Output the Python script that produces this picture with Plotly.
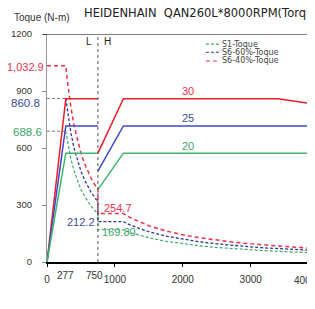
import plotly.graph_objects as go

# ---------------- data ----------------
# Power (kW) - L winding
speed_L_power = [0, 277, 750]
power_L_s6_40 = [0, 30, 30]
power_L_s6_60 = [0, 25, 25]
power_L_s1 = [0, 20, 20]
# Power (kW) - H winding
speed_H_power = [750, 1125, 3400, 4000]
power_H_s6_40 = [20.0, 30, 30, 28.9]
power_H_s6_60 = [16.7, 25, 25, 25]
power_H_s1 = [13.3, 20, 20, 20]

# Torque (N-m), L winding then H winding
speed_torque = [0, 277, 300, 325, 350, 400, 450, 500, 550, 600, 650, 700, 750,
                750, 1125, 1250, 1500, 1750, 2000, 2250, 2500, 2750, 3000, 3250, 3500, 3750, 4000]
torque_s6_40 = [1032.9, 1032.9, 954.9, 881.4, 818.5, 716.2, 636.6, 572.9, 520.9, 477.5, 440.7, 409.2, 382.0,
                254.7, 254.7, 229.2, 191.0, 163.7, 143.2, 127.3, 114.6, 104.2, 95.5, 88.1, 81.3, 74.8, 69.0]
torque_s6_60 = [860.8, 860.8, 795.8, 734.5, 682.1, 596.8, 530.5, 477.5, 434.0, 397.9, 367.3, 341.0, 318.3,
                212.2, 212.2, 191.0, 159.2, 136.4, 119.4, 106.1, 95.5, 86.8, 79.6, 73.5, 68.2, 63.7, 59.7]
torque_s1 = [688.6, 688.6, 636.6, 587.6, 545.7, 477.5, 424.4, 382.0, 347.2, 318.3, 293.8, 272.8, 254.6,
             169.8, 169.8, 152.8, 127.3, 109.1, 95.5, 84.9, 76.4, 69.4, 63.7, 58.8, 54.6, 50.9, 47.7]

x_ticks = [0, 1000, 2000, 3000]
y_ticks = [0, 300, 600, 900, 1200]
legend_names = ["S1-Toque", "S6-60%-Toque", "S6-40%-Toque"]
power_labels = ["30", "25", "20"]

# ---------------- styles ----------------
RED_P, BLUE_P, GREEN_P = "#EE1C25", "#3F48CC", "#3DB56E"
RED_T, BLUE_T, GREEN_T = "#F0304A", "#2B3990", "#3BAA6A"
RED_TXT, BLUE_TXT, GREEN_TXT = "#E8334A", "#3B4B9B", "#3BA56B"
GUIDE = "#777777"
DASH_R = "4px,3px"
DASH_S = "3px,2px"

X_MAX = 3947
Y2_MAX = 41.9

fig = go.Figure()

# Power curves (secondary axis)
for sp, pw, col in [(speed_L_power, power_L_s6_40, RED_P), (speed_H_power, power_H_s6_40, RED_P),
                    (speed_L_power, power_L_s6_60, BLUE_P), (speed_H_power, power_H_s6_60, BLUE_P),
                    (speed_L_power, power_L_s1, GREEN_P), (speed_H_power, power_H_s1, GREEN_P)]:
    fig.add_trace(go.Scatter(x=sp, y=pw, yaxis="y2", mode="lines",
                             line=dict(color=col, width=1.5), showlegend=False, hoverinfo="skip"))

# Torque curves
fig.add_trace(go.Scatter(x=speed_torque[:2], y=torque_s1[:2], mode="lines",
                         line=dict(color=GUIDE, width=1, dash=DASH_S), showlegend=False))
fig.add_trace(go.Scatter(x=speed_torque[:2], y=torque_s6_60[:2], mode="lines",
                         line=dict(color=GUIDE, width=1, dash=DASH_S), showlegend=False))
fig.add_trace(go.Scatter(x=speed_torque[1:], y=torque_s1[1:], mode="lines",
                         line=dict(color=GREEN_T, width=1.2, dash=DASH_S), showlegend=False))
fig.add_trace(go.Scatter(x=speed_torque[1:], y=torque_s6_60[1:], mode="lines",
                         line=dict(color=BLUE_T, width=1.3, dash=DASH_S), showlegend=False))
fig.add_trace(go.Scatter(x=speed_torque, y=torque_s6_40, mode="lines",
                         line=dict(color=RED_T, width=1.5, dash=DASH_R), showlegend=False))

# ---------------- shapes ----------------
shapes = [
    dict(type="line", xref="paper", yref="y", x0=-0.015, x1=1, y0=1200, y1=1200,
         line=dict(color="black", width=1)),
    dict(type="line", xref="x", yref="paper", x0=750, x1=750, y0=0, y1=1,
         line=dict(color="#555555", width=1, dash="dot")),
]
# manual legend
leg_y = [0.956, 0.920, 0.8816]
leg_cols = [GREEN_T, BLUE_T, RED_T]
leg_dash = [DASH_S, DASH_S, DASH_R]
annotations = []
for name, yy, c, d in zip(legend_names, leg_y, leg_cols, leg_dash):
    shapes.append(dict(type="line", xref="paper", yref="paper", x0=0.593, x1=0.6455, y0=yy, y1=yy,
                       line=dict(color=c, width=1.2, dash=d)))
    annotations.append(dict(xref="paper", yref="paper", x=0.649, y=yy, text=name, showarrow=False,
                            xanchor="left", yanchor="middle", borderpad=0,
                            font=dict(size=8, color="#444444", family="DejaVu Sans")))

FONT = "Liberation Sans, Arial, sans-serif"
TICKFONT = dict(size=10, color="#333333")

annotations += [
    dict(xref="paper", yref="paper", x=-0.1306, y=1.0715, text="Toque (N-m)", showarrow=False,
         xanchor="left", yanchor="middle", font=dict(size=10, color="#333333")),
    dict(xref="paper", yref="paper", x=0.13, y=1.092, text="HEIDENHAIN  QAN260L*8000RPM(Torque&Power)",
         showarrow=False, xanchor="left", yanchor="middle",
         font=dict(size=11.5, color="#222222", family="DejaVu Sans")),
    dict(xref="x", yref="paper", x=750, y=0.965, xshift=-8.5, text="L", showarrow=False,
         yanchor="middle", font=dict(size=10, color="#222222")),
    dict(xref="x", yref="paper", x=750, y=0.965, xshift=9.5, text="H", showarrow=False,
         yanchor="middle", font=dict(size=10, color="#222222")),
    dict(xref="x", yref="paper", x=277, y=-0.058, text="277", showarrow=False,
         yanchor="middle", font=TICKFONT),
    dict(xref="x", yref="paper", x=750, y=-0.058, xshift=-3, text="750", showarrow=False,
         yanchor="middle", font=TICKFONT),
    dict(xref="paper", yref="paper", x=4000 / X_MAX, y=-0.079, text="4000", showarrow=False,
         yanchor="middle", font=TICKFONT),
    # torque values
    dict(xref="x", yref="y", x=0, y=torque_s6_40[0], xanchor="right", xshift=-1, yshift=-1,
         text="1,032.9", showarrow=False, font=dict(size=11, color=RED_TXT)),
    dict(xref="x", yref="y", x=0, y=torque_s6_60[0], xanchor="right", xshift=-5, yshift=-4.5,
         text="860.8", showarrow=False, font=dict(size=11.5, color=BLUE_TXT)),
    dict(xref="x", yref="y", x=0, y=torque_s1[0], xanchor="right", xshift=-3, yshift=-0.5,
         text="688.6", showarrow=False, font=dict(size=11.5, color=GREEN_TXT)),
    dict(xref="x", yref="y", x=750, y=torque_s6_40[13], xanchor="left", xshift=4, yshift=6,
         text="254.7", showarrow=False, font=dict(size=11, color=RED_TXT)),
    dict(xref="x", yref="y", x=750, y=torque_s6_60[13], xanchor="right", xshift=-1, yshift=0,
         text="212.2", showarrow=False, font=dict(size=11, color=BLUE_TXT)),
    dict(xref="x", yref="y", x=750, y=torque_s1[13], xanchor="left", xshift=2, yshift=-2.5,
         text="169.80", showarrow=False, font=dict(size=11, color=GREEN_TXT)),
]
# power labels
for lab, pw, col, ys in zip(power_labels, [power_H_s6_40[1], power_H_s6_60[1], power_H_s1[1]],
                            [RED_TXT, BLUE_TXT, GREEN_TXT], [8, 8, 7]):
    annotations.append(dict(xref="x", yref="y2", x=2070, y=pw, yshift=ys, text=lab, showarrow=False,
                            font=dict(size=11, color=col)))

# page body has an 8px margin: figure is sized/offset to compensate
fig.update_layout(
    width=307, height=301,
    margin=dict(l=39, r=0, t=26, b=47),
    paper_bgcolor="white", plot_bgcolor="white",
    font=dict(family=FONT, color="#333333"),
    showlegend=False,
    xaxis=dict(range=[0, X_MAX], tickvals=x_ticks, ticks="outside", ticklen=3, tickcolor="black",
               showline=True, linecolor="black", linewidth=2, showgrid=False, zeroline=False,
               tickfont=TICKFONT, ticklabelstandoff=4),
    yaxis=dict(range=[0, 1200], tickvals=y_ticks, ticks="outside", ticklen=4, tickcolor="#888888",
               showline=True, linecolor="#999999", linewidth=1, showgrid=False, zeroline=False,
               tickfont=dict(size=9.5, color="#333333"), ticklabelstandoff=8),
    yaxis2=dict(range=[0, Y2_MAX], overlaying="y", side="right", visible=False),
    shapes=shapes,
    annotations=annotations,
)

fig.write_html("out.html")
